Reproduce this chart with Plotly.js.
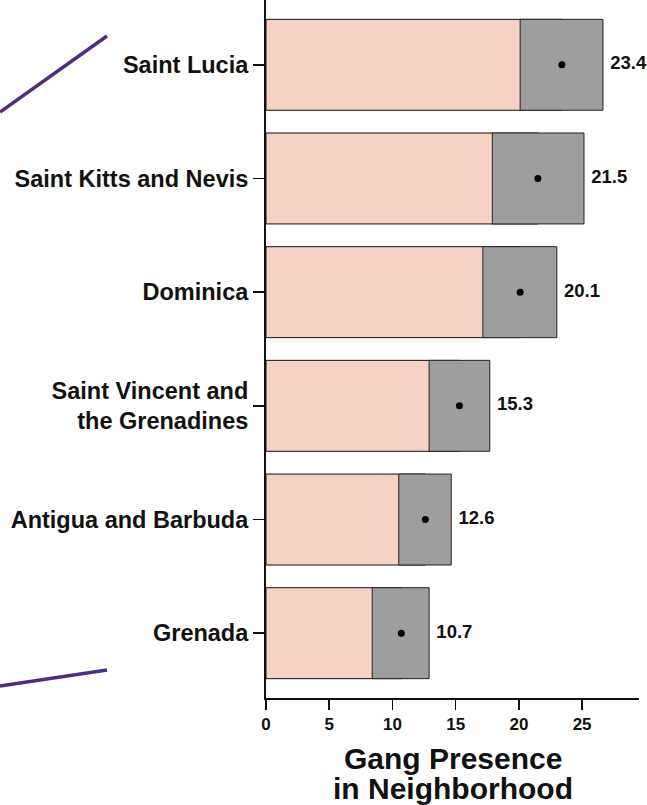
<!DOCTYPE html>
<html>
<head>
<meta charset="utf-8">
<script src="https://cdn.plot.ly/plotly-3.0.1.min.js"></script>
<style>html,body{margin:0;padding:0;background:#fff;}#chart{width:647px;height:805px;}</style>
</head>
<body>
<div id="chart"></div>
<script>
// Data (bottom to top)
const countries = ["Grenada", "Antigua and Barbuda", "Saint Vincent and<br>the Grenadines", "Dominica", "Saint Kitts and Nevis", "Saint Lucia"];
const estimate = [10.7, 12.6, 15.3, 20.1, 21.5, 23.4];
const lower = [8.4, 10.5, 12.9, 17.15, 17.9, 20.1];
const upper = [12.9, 14.65, 17.7, 23.0, 25.15, 26.65];
const xTicks = [0, 5, 10, 15, 20, 25];

const FONT = "Liberation Sans, Arial, sans-serif";
const ciWidth = upper.map((u, i) => u - lower[i]);
const labels = estimate.map(v => v.toFixed(1));

const traces = [
  {
    type: "bar", orientation: "h", y: countries, x: estimate, base: 0, width: 0.8,
    marker: {color: "#f6d1c5", line: {color: "#111111", width: 1}},
    hoverinfo: "skip", showlegend: false
  },
  {
    type: "bar", orientation: "h", y: countries, x: ciWidth, base: lower, width: 0.8,
    marker: {color: "#9e9e9e", line: {color: "#222222", width: 1}},
    hoverinfo: "skip", showlegend: false
  },
  {
    type: "scatter", mode: "markers", y: countries, x: estimate,
    marker: {color: "#000000", size: 7},
    hoverinfo: "skip", showlegend: false
  },
  {
    type: "scatter", mode: "markers+text", y: countries, x: upper, text: labels,
    textposition: "middle right",
    marker: {size: 10, opacity: 0, color: "#ffffff"},
    textfont: {family: FONT, size: 18.5, color: "#111111", weight: 700},
    hoverinfo: "skip", showlegend: false, cliponaxis: false
  }
];

const layout = {
  width: 647, height: 805,
  margin: {l: 266, r: 8, t: 0, b: 107, pad: 0},
  paper_bgcolor: "#ffffff", plot_bgcolor: "#ffffff",
  barmode: "overlay",
  showlegend: false,
  font: {family: FONT, color: "#111111"},
  xaxis: {
    range: [0, 29.5], tickvals: xTicks, ticktext: xTicks.map(String),
    showgrid: false, zeroline: false,
    showline: true, linecolor: "#111111", linewidth: 2,
    ticks: "outside", ticklen: 10, tickwidth: 1.5, tickcolor: "#111111",
    tickfont: {family: FONT, size: 17, color: "#111111", weight: 700},
    fixedrange: true
  },
  yaxis: {
    type: "category", categoryorder: "array", categoryarray: countries,
    range: [-0.57, 5.57],
    showgrid: false, zeroline: false,
    showline: true, linecolor: "#111111", linewidth: 2,
    ticks: "outside", ticklen: 11, tickwidth: 1.5, tickcolor: "#111111",
    tickfont: {family: FONT, size: 23.5, color: "#111111", weight: 700},
    fixedrange: true
  },
  annotations: [
    {xref: "paper", yref: "paper", x: 0.5, y: -0.0595, yanchor: "top", xanchor: "center",
     text: "Gang Presence", showarrow: false,
     font: {family: FONT, size: 30, color: "#111111", weight: 700}},
    {xref: "paper", yref: "paper", x: 0.5, y: -0.1027, yanchor: "top", xanchor: "center",
     text: "in Neighborhood", showarrow: false,
     font: {family: FONT, size: 30, color: "#111111", weight: 700}}
  ],
  shapes: [
    {type: "line", xref: "paper", yref: "paper", x0: -0.7131, y0: 0.8395, x1: -0.4263, y1: 0.9484,
     line: {color: "#4f2d7f", width: 3.5}},
    {type: "line", xref: "paper", yref: "paper", x0: -0.7131, y0: 0.0172, x1: -0.4263, y1: 0.0401,
     line: {color: "#4f2d7f", width: 3.5}}
  ]
};

Plotly.newPlot("chart", traces, layout, {displayModeBar: false, staticPlot: true});
</script>
</body>
</html>
